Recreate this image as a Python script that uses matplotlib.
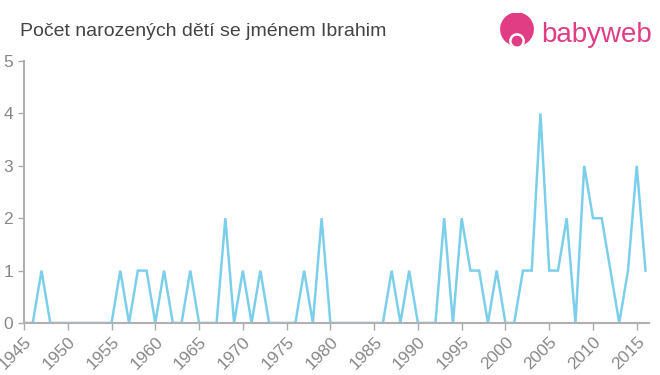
import numpy as np
import matplotlib.pyplot as plt
from matplotlib.patches import Circle

years = list(range(1945, 2017))
counts = [0, 0, 1, 0, 0, 0, 0, 0, 0, 0,   # 1945-1954
          0, 1, 0, 1, 1, 0, 1, 0, 0, 1,   # 1955-1964
          0, 0, 0, 2, 0, 1, 0, 1, 0, 0,   # 1965-1974
          0, 0, 1, 0, 2, 0, 0, 0, 0, 0,   # 1975-1984
          0, 0, 1, 0, 1, 0, 0, 0, 2, 0,   # 1985-1994
          2, 1, 1, 0, 1, 0, 0, 1, 1, 4,   # 1995-2004
          1, 1, 2, 0, 3, 2, 2, 1, 0, 1,   # 2005-2014
          3, 1]                           # 2015-2016
xticks = list(range(1945, 2016, 5))
yticks = [0, 1, 2, 3, 4, 5]

title = "Počet narozených dětí se jménem Ibrahim"
grey = "#888888"
line_col = "#7ccfea"
pink = "#e03d84"

plt.rcParams['font.family'] = ['Liberation Sans', 'DejaVu Sans']

fig = plt.figure(figsize=(6.6, 3.75), dpi=100)
ax = fig.add_axes([24 / 660, 1 - 323 / 375, 625 / 660, 262 / 375])

ax.plot(years, counts, color=line_col, lw=1.8, solid_joinstyle='miter')
ax.set_xlim(1945, 2016.4)
ax.set_ylim(0, 5)
ax.set_xticks(xticks)
ax.set_xticklabels([str(x) for x in xticks], rotation=45, ha='right',
                   rotation_mode='anchor', fontsize=12.5, color=grey)
ax.set_yticks(yticks)
ax.set_yticklabels([str(y) for y in yticks], fontsize=12.5, color=grey)
ax.tick_params(axis='both', color='#aaaaaa', length=5, width=1)
ax.tick_params(axis='x', pad=3)
ax.tick_params(axis='y', length=4, pad=4)

for s in ['top', 'right']:
    ax.spines[s].set_visible(False)
for s in ['left', 'bottom']:
    ax.spines[s].set_color('#b0b0b0')
    ax.spines[s].set_linewidth(1.5)

fig.text(20 / 660, 1 - 31 / 375, title, fontsize=14, color='#444444', va='center')

# babyweb logo
lax = fig.add_axes([499 / 660, 1 - 49 / 375, 36 / 660, 36 / 375])
lax.set_xlim(0, 1)
lax.set_ylim(0, 1)
lax.set_aspect('equal')
lax.axis('off')
lax.add_patch(Circle((0.5, 0.55), 0.45, color=pink))
lax.add_patch(Circle((0.5, 0.22), 0.2, color='white'))
lax.add_patch(Circle((0.5, 0.22), 0.13, color=pink))
fig.text(541 / 660, 1 - 35 / 375, "babyweb", fontsize=20, color=pink, va='center')

fig.savefig("out.png", dpi=100)
